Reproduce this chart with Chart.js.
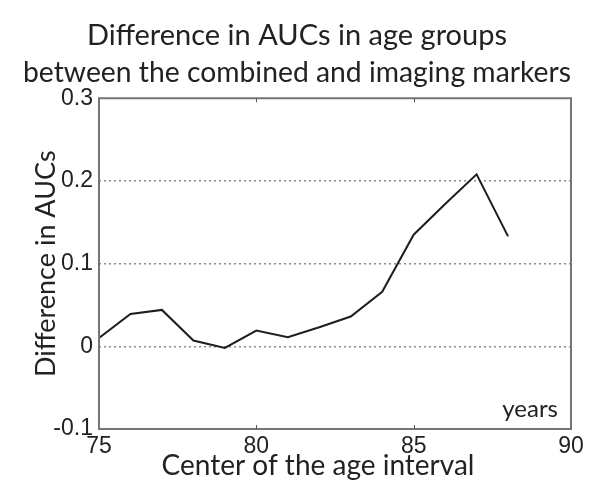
<!DOCTYPE html>
<html>
<head>
<meta charset="utf-8">
<script src="https://cdn.jsdelivr.net/npm/chart.js@4"></script>
<style>
  html, body { margin: 0; padding: 0; background: #fff; }
  #wrap { width: 600px; height: 499px; }
</style>
</head>
<body>
<div id="wrap"><canvas id="aucChart" width="600" height="499"></canvas></div>
<script>
var ages = [75, 76, 77, 78, 79, 80, 81, 82, 83, 84, 85, 86, 87, 88];
var aucDiffs = [0.01, 0.039, 0.044, 0.007, -0.002, 0.019, 0.011, 0.023, 0.036, 0.066, 0.135, 0.172, 0.208, 0.133];
var xTicks = [75, 80, 85, 90];
var yTicks = [-0.1, 0, 0.1, 0.2, 0.3];
var xTitle = 'Center of the age interval';

var frameColor = '#757575';
var textFont = 'Lato, "Open Sans", sans-serif';
var tickFont = '"Liberation Sans", Arial, sans-serif';

// box around the plot, small inner ticks, the x title and the "years" note
var framePlugin = {
  id: 'frame',
  afterDraw: function(chart) {
    var ctx = chart.ctx;
    var a = chart.chartArea;
    var xs = chart.scales.x;
    ctx.save();
    ctx.strokeStyle = frameColor;
    ctx.lineWidth = 2;
    ctx.strokeRect(a.left, a.top, a.right - a.left, a.bottom - a.top);
    ctx.lineWidth = 1;
    ctx.strokeStyle = '#555';
    [80, 85].forEach(function(v) {
      var px = Math.round(xs.getPixelForValue(v)) + 0.5;
      ctx.beginPath();
      ctx.moveTo(px, a.top);
      ctx.lineTo(px, a.top + 4);
      ctx.moveTo(px, a.bottom);
      ctx.lineTo(px, a.bottom - 4);
      ctx.stroke();
    });
    ctx.fillStyle = '#222';
    ctx.textBaseline = 'alphabetic';
    ctx.font = '24px ' + textFont;
    ctx.textAlign = 'right';
    ctx.fillText('years', a.right - 13, a.bottom - 12);
    ctx.font = '28px ' + textFont;
    ctx.textAlign = 'center';
    ctx.fillText(xTitle, 318, xs.bottom - 24);
    ctx.restore();
  }
};

new Chart(document.getElementById('aucChart').getContext('2d'), {
  type: 'line',
  data: {
    datasets: [{
      label: 'Difference in AUCs',
      data: ages.map(function(age, i) { return { x: age, y: aucDiffs[i] }; }),
      borderColor: '#1e1e1e',
      borderWidth: 2,
      pointRadius: 0,
      tension: 0,
      fill: false
    }]
  },
  options: {
    responsive: false,
    animation: false,
    layout: { padding: { left: 23, right: 29, top: 0, bottom: 0 } },
    plugins: {
      legend: { display: false },
      tooltip: { enabled: false },
      title: {
        display: true,
        text: ['Difference in AUCs in age groups', 'between the combined and imaging markers'],
        color: '#222',
        font: { family: textFont, size: 29, weight: 'normal', lineHeight: 1.28 },
        padding: { top: 17, bottom: 7 }
      }
    },
    scales: {
      x: {
        type: 'linear',
        min: 75,
        max: 90,
        afterBuildTicks: function(scale) {
          scale.ticks = xTicks.map(function(v) { return { value: v }; });
        },
        afterFit: function(scale) { scale.height = 70; },
        grid: { display: false, drawTicks: false },
        border: { display: false },
        ticks: {
          color: '#222',
          padding: 4,
          maxRotation: 0,
          font: { family: tickFont, size: 23 }
        },
        title: { display: false }
      },
      y: {
        min: -0.1,
        max: 0.3,
        afterBuildTicks: function(scale) {
          scale.ticks = yTicks.map(function(v) { return { value: v }; });
        },
        afterFit: function(scale) { scale.width = 76; },
        grid: {
          drawTicks: false,
          lineWidth: 1.5,
          color: function(c) {
            var v = c.tick ? c.tick.value : null;
            if (v === null || Math.abs(v - 0.3) < 1e-9 || Math.abs(v + 0.1) < 1e-9) {
              return 'rgba(0,0,0,0)';
            }
            return '#8a8a8a';
          }
        },
        border: { display: false, dash: [2, 3] },
        ticks: {
          color: '#222',
          padding: 6,
          font: { family: tickFont, size: 23 },
          callback: function(v) {
            return Math.abs(v) < 1e-9 ? '0' : String(Math.round(v * 10) / 10);
          }
        },
        title: {
          display: true,
          text: 'Difference in AUCs',
          color: '#222',
          font: { family: textFont, size: 27, lineHeight: 1.2 },
          padding: { top: 7, bottom: 0 }
        }
      }
    }
  },
  plugins: [framePlugin]
});
</script>
</body>
</html>
